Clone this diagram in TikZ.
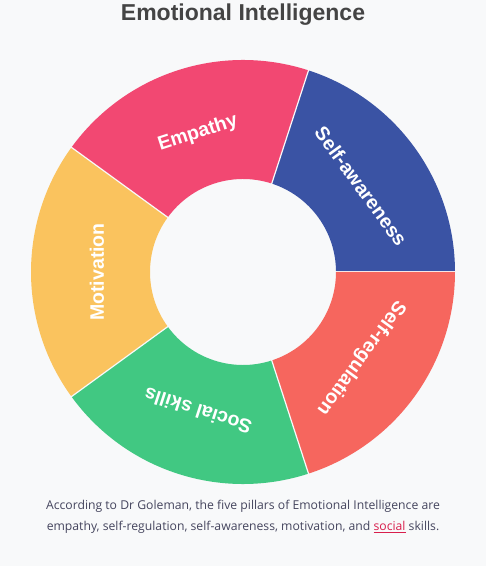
\documentclass[tikz,border=0pt]{standalone}
\usepackage{fontspec}
\setmainfont{Liberation Sans}
\newfontfamily\captionfont{Open Sans}
\usepackage{xcolor}
\definecolor{bgpage}{HTML}{F8F9FA}
\definecolor{titlegray}{HTML}{444444}
\definecolor{textgray}{HTML}{45455E}
\definecolor{linkred}{HTML}{D81E4C}
\definecolor{eiblue}{HTML}{3A53A4}
\definecolor{eipink}{HTML}{F24872}
\definecolor{eiyellow}{HTML}{FAC35E}
\definecolor{eigreen}{HTML}{41C882}
\definecolor{eisalmon}{HTML}{F6665E}

\begin{document}
\begin{tikzpicture}[
    x=1pt, y=1pt,
    title/.style={font=\fontsize{23}{27}\selectfont\bfseries, text=titlegray},
    pillar/.style={font=\fontsize{19.5}{24}\selectfont\bfseries, text=white, inner sep=0pt},
    gap/.style={draw=bgpage, line width=1.2pt},
    note/.style={font=\captionfont\fontsize{12.2}{20.5}\selectfont, text=textgray, align=center}
]
    \fill[bgpage] (0,0) rectangle (486,566);
    \useasboundingbox (0,0) rectangle (486,566);

    \coordinate (c) at (243,294);

    % donut segments, counter-clockwise from east
    \foreach \a/\col/\txt in {0/eiblue/Self-awareness, 72/eipink/Empathy, 144/eiyellow/Motivation, 216/eigreen/Social skills, 288/eisalmon/Self-regulation} {
        \begin{scope}[shift={(c)}]
            \fill[\col] (\a:93) -- (\a:212) arc[start angle=\a, end angle=\a+72, radius=212]
                -- ({\a+72}:93) arc[start angle=\a+72, end angle=\a, radius=93] -- cycle;
            \draw[gap] (\a:92) -- (\a:213);
            \node[pillar, rotate=\a+36-90] (p\a) at ({\a+36}:146) {\txt};
        \end{scope}
    }

    \node[title] (head) at (243,551) {Emotional Intelligence};

    \node[note] (cap) at (243,49) {According to Dr Goleman, the five pillars of Emotional Intelligence are\\
        empathy, self-regulation, self-awareness, motivation, and \textcolor{linkred}{\underline{social}} skills.};
\end{tikzpicture}
\end{document}
